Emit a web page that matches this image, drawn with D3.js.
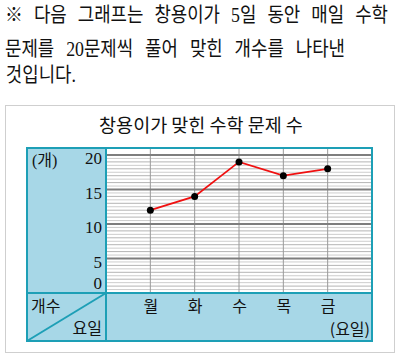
<!DOCTYPE html>
<html><head><meta charset="utf-8">
<script src="https://cdn.jsdelivr.net/npm/d3@7/dist/d3.min.js"></script>
<style>
html,body{margin:0;padding:0;background:#fff;}
svg{display:block;}
</style></head>
<body>
<svg id="c" width="400" height="355"></svg>
<script>
const headerLines = ["※ 다음 그래프는 창용이가 5일 동안 매일 수학", "문제를 20문제씩 풀어 맞힌 개수를 나타낸", "것입니다."];
const title = "창용이가 맞힌 수학 문제 수";
const days = ["월", "화", "수", "목", "금"];
const counts = [12, 14, 19, 17, 18];
const yTicks = [0, 5, 10, 15, 20];
const yUnit = "(개)";
const cornerTop = "개수";
const cornerBottom = "요일";
const xUnit = "(요일)";

const svg = d3.select("#c");
const serif = "'Liberation Serif','Noto Sans CJK KR',serif";
const sans = "'Noto Sans CJK KR','Noto Sans',sans-serif";

// header lines, slightly condensed, words spread to the reference line widths
const hFont = 20.5, hScale = 0.87;
const lineSpec = [{y:22, w:383}, {y:56, w:340}, {y:82, w:null}];
headerLines.forEach((t,i)=>{
  const g = svg.append("g").attr("transform",`translate(5,${lineSpec[i].y}) scale(${hScale},1)`)
    .attr("font-family",serif).attr("font-size",hFont).attr("fill","#111");
  const words = t.split(" ");
  const els = words.map(w=>g.append("text").attr("x",0).attr("y",0).text(w));
  const lens = els.map(e=>e.node().getComputedTextLength());
  const gap = lineSpec[i].w ? (lineSpec[i].w/hScale - d3.sum(lens))/(words.length-1) : 7;
  let cx = i===2 ? 1 : 0;
  els.forEach((e,k)=>{ e.attr("x",cx); cx += lens[k]+gap; });
});

// outer box
svg.append("rect").attr("x",5.5).attr("y",105.5).attr("width",389).attr("height",247)
  .attr("fill","#fff").attr("stroke","#cfcfcf").attr("stroke-width",1);

svg.append("text").attr("x",201).attr("y",132).attr("text-anchor","middle")
  .attr("font-family",sans).attr("font-size",18.5).attr("fill","#111").text(title);

const fx0=27, fx1=372, fy0=148, fy1=341, xL=106, yB=293;
const teal="#1d9fb6", blue="#a7d7e7";

const x = d3.scalePoint().domain(days).range([xL,fx1]).padding(1);
const y = d3.scaleLinear().domain([0,20]).range([yB,155]);

// fills
svg.append("rect").attr("x",fx0).attr("y",fy0).attr("width",xL-fx0).attr("height",fy1-fy0).attr("fill",blue);
svg.append("rect").attr("x",xL).attr("y",yB).attr("width",fx1-xL).attr("height",fy1-yB).attr("fill",blue);
svg.append("rect").attr("x",xL).attr("y",fy0).attr("width",fx1-xL).attr("height",yB-fy0).attr("fill","#fff");

// grid
const minor = d3.range(0.5,20,0.5).filter(v=>v%5!==0);
svg.append("g").selectAll("line").data(minor).join("line")
  .attr("x1",xL).attr("x2",fx1).attr("y1",d=>y(d)).attr("y2",d=>y(d))
  .attr("stroke",d=>Number.isInteger(d)?"#b4b4b4":"#cdcdcd").attr("stroke-width",1);
svg.append("g").selectAll("line").data(days).join("line")
  .attr("x1",d=>x(d)).attr("x2",d=>x(d)).attr("y1",fy0).attr("y2",yB)
  .attr("stroke","#9a9a9a").attr("stroke-width",1);
svg.append("g").selectAll("line").data(yTicks).join("line")
  .attr("x1",xL).attr("x2",fx1).attr("y1",d=>y(d)).attr("y2",d=>y(d))
  .attr("stroke","#7e7e7e").attr("stroke-width",2);

// frame
const fr = svg.append("g").attr("stroke",teal).attr("stroke-width",2).attr("fill","none");
fr.append("rect").attr("x",fx0).attr("y",fy0).attr("width",fx1-fx0).attr("height",fy1-fy0);
fr.append("line").attr("x1",xL).attr("x2",xL).attr("y1",fy0).attr("y2",fy1);
fr.append("line").attr("x1",fx0).attr("x2",fx1).attr("y1",yB).attr("y2",yB);
fr.append("line").attr("x1",fx0).attr("y1",fy1).attr("x2",xL).attr("y2",yB);

// y axis labels
const ya = svg.append("g").attr("transform",`translate(${xL-4},0)`)
  .call(d3.axisLeft(y).tickValues(yTicks).tickSize(0).tickPadding(0).tickFormat(d3.format("d")));
ya.select(".domain").remove();
ya.selectAll("text").attr("font-family",serif).attr("font-size",17).attr("fill","#111")
  .attr("dy",d=>d===0?"-0.25em":"0.5em");

svg.append("text").attr("x",32).attr("y",166).attr("font-family",serif).attr("font-size",16).attr("fill","#111").text(yUnit);

// x axis labels
const xa = svg.append("g").attr("transform",`translate(0,${yB})`)
  .call(d3.axisBottom(x).tickSize(0).tickPadding(0));
xa.select(".domain").remove();
xa.selectAll("text").attr("font-family",sans).attr("font-size",16).attr("fill","#111")
  .attr("dy","1.2em");

svg.append("text").attr("x",31).attr("y",312).attr("font-family",sans).attr("font-size",16).attr("fill","#111").text(cornerTop);
svg.append("text").attr("x",102).attr("y",334).attr("text-anchor","end").attr("font-family",sans).attr("font-size",16).attr("fill","#111").text(cornerBottom);
svg.append("text").attr("x",370).attr("y",335).attr("text-anchor","end").attr("font-family",sans).attr("font-size",16).attr("fill","#111").text(xUnit);

// line & points
const pts = days.map((d,i)=>({d,v:counts[i]}));
svg.append("path").datum(pts)
  .attr("d",d3.line().x(p=>x(p.d)).y(p=>y(p.v)))
  .attr("fill","none").attr("stroke","#f01010").attr("stroke-width",1.8);
svg.append("g").selectAll("circle").data(pts).join("circle")
  .attr("cx",p=>x(p.d)).attr("cy",p=>y(p.v)).attr("r",3.5).attr("fill","#000");
</script>
</body></html>
